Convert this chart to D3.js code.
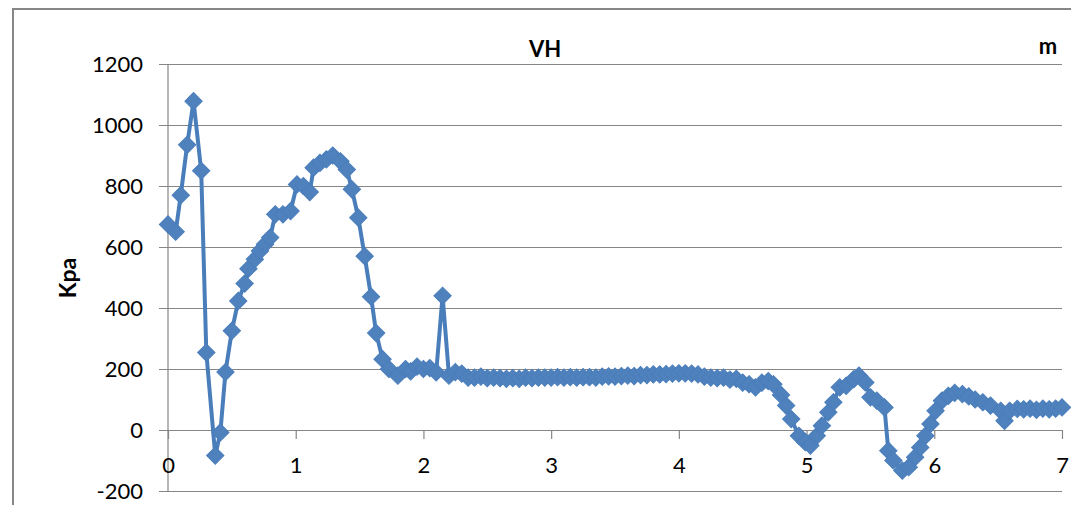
<!DOCTYPE html>
<html>
<head>
<meta charset="utf-8">
<script src="https://cdn.jsdelivr.net/npm/d3@7"></script>
<style>
  html, body { margin: 0; padding: 0; background: #fff; }
  svg { display: block; }
</style>
</head>
<body>
<svg id="chart" width="1071" height="505"></svg>
<script>
const chartTitle = "VH";
const xAxisTitle = "m";
const yAxisTitle = "Kpa";
const xTicks = [0, 1, 2, 3, 4, 5, 6, 7];
const yTicks = [-200, 0, 200, 400, 600, 800, 1000, 1200];

const depth = [
  0.00, 0.06, 0.10, 0.15, 0.20, 0.26, 0.30, 0.37, 0.41, 0.45,
  0.50, 0.55, 0.60, 0.63, 0.68, 0.72, 0.76, 0.80, 0.84, 0.90,
  0.96, 1.01, 1.06, 1.11, 1.14, 1.19, 1.24, 1.29, 1.35, 1.40,
  1.44, 1.49, 1.54, 1.59, 1.63, 1.68, 1.73, 1.80, 1.86, 1.90,
  1.95, 2.00, 2.05, 2.10, 2.15, 2.20, 2.25, 2.30, 2.35, 2.40,
  2.45, 2.50, 2.55, 2.60, 2.65, 2.70, 2.75, 2.80, 2.85, 2.90,
  2.95, 3.00, 3.05, 3.10, 3.15, 3.20, 3.25, 3.30, 3.35, 3.40,
  3.45, 3.50, 3.55, 3.60, 3.65, 3.70, 3.75, 3.80, 3.85, 3.90,
  3.95, 4.00, 4.05, 4.10, 4.15, 4.20, 4.25, 4.30, 4.35, 4.40,
  4.45, 4.50, 4.55, 4.60, 4.65, 4.70, 4.74, 4.80, 4.84, 4.88,
  4.94, 4.99, 5.03, 5.08, 5.12, 5.17, 5.21, 5.26, 5.31, 5.37,
  5.41, 5.46, 5.50, 5.55, 5.61, 5.64, 5.68, 5.75, 5.80, 5.85,
  5.89, 5.93, 5.97, 6.01, 6.06, 6.11, 6.16, 6.22, 6.27, 6.32,
  6.38, 6.44, 6.52, 6.55, 6.59, 6.65, 6.70, 6.75, 6.80, 6.85,
  6.90, 6.95, 7.00
];
const pressure = [
  674, 650, 770, 935, 1078, 850, 254, -84, -8, 190,
  325, 423, 480, 529, 560, 587, 609, 631, 707, 707,
  718, 805, 800, 780, 860, 876, 887, 900, 881, 854,
  789, 696, 570, 437, 318, 232, 200, 178, 200, 192,
  208, 200, 203, 189, 440, 178, 190, 185, 172, 172,
  175, 170, 172, 170, 168, 170, 168, 172, 170, 172,
  172, 172, 173, 172, 173, 172, 173, 173, 172, 175,
  176, 175, 177, 178, 177, 180, 180, 182, 182, 183,
  185, 186, 186, 185, 182, 175, 172, 170, 172, 165,
  168, 155, 150, 140, 155, 160, 150, 115, 80, 36,
  -19, -40, -51, -19, 14, 58, 91, 140, 145, 167,
  178, 156, 107, 96, 74, -68, -100, -133, -122, -89,
  -57, -19, 20, 63, 96, 112, 122, 118, 110, 100,
  91, 80, 63, 30, 63, 69, 68, 70, 66, 70,
  68, 70, 74
];

const data = depth.map((d, i) => ({ x: d, y: pressure[i] }));

const svg = d3.select("#chart");
const x = d3.scaleLinear().domain([0, 7]).range([168, 1062]);
const y = d3.scaleLinear().domain([-200, 1200]).range([491, 64]);

const gridColor = "#868686";
const seriesColor = "#4A7EBB";
const markerColor = "#4F81BD";
const fontFamily = "Lato, 'Open Sans', sans-serif";

// outer chart border
svg.append("rect")
  .attr("x", 13).attr("y", 9)
  .attr("width", 1070).attr("height", 510)
  .attr("fill", "none")
  .attr("stroke", "#878787")
  .attr("stroke-width", 2);

// y axis with gridlines
const yAxis = d3.axisLeft(y)
  .tickValues(yTicks)
  .tickSize(-(1062 - 159))
  .tickPadding(16)
  .tickFormat(d => String(d));
const gy = svg.append("g")
  .attr("transform", "translate(159,0)")
  .call(yAxis);
gy.select(".domain").remove();
gy.selectAll(".tick line").attr("stroke", gridColor).attr("stroke-width", 1.2);
gy.selectAll(".tick text")
  .attr("font-family", fontFamily)
  .attr("font-size", 22)
  .attr("fill", "#000");

// y axis vertical line
svg.append("line")
  .attr("x1", x(0)).attr("x2", x(0))
  .attr("y1", y(1200)).attr("y2", y(-200))
  .attr("stroke", gridColor).attr("stroke-width", 1.2);

// x axis at y=0
const xAxis = d3.axisBottom(x)
  .tickValues(xTicks)
  .tickSize(9)
  .tickPadding(18)
  .tickFormat(d => String(d));
const gx = svg.append("g")
  .attr("transform", `translate(0,${y(0)})`)
  .call(xAxis);
gx.select(".domain").remove();
gx.selectAll(".tick line").attr("stroke", gridColor).attr("stroke-width", 1.2);
gx.selectAll(".tick text")
  .attr("font-family", fontFamily)
  .attr("font-size", 22)
  .attr("fill", "#000");

// series line
const line = d3.line().x(d => x(d.x)).y(d => y(d.y));
svg.append("path")
  .datum(data)
  .attr("d", line)
  .attr("fill", "none")
  .attr("stroke", seriesColor)
  .attr("stroke-width", 4)
  .attr("stroke-linejoin", "round");

// diamond markers
const diamond = d3.symbol().type(d3.symbolSquare).size(150);
svg.append("g").selectAll("path")
  .data(data)
  .join("path")
  .attr("d", diamond)
  .attr("transform", d => `translate(${x(d.x)},${y(d.y)}) rotate(45)`)
  .attr("fill", markerColor)
  .attr("stroke", seriesColor)
  .attr("stroke-width", 1);

// titles
svg.append("text")
  .attr("x", 545).attr("y", 57)
  .attr("text-anchor", "middle")
  .attr("font-family", fontFamily)
  .attr("font-weight", "bold")
  .attr("font-size", 22)
  .text(chartTitle);

svg.append("text")
  .attr("x", 1048).attr("y", 54)
  .attr("text-anchor", "middle")
  .attr("font-family", fontFamily)
  .attr("font-weight", "bold")
  .attr("font-size", 22)
  .text(xAxisTitle);

svg.append("text")
  .attr("transform", "translate(76,278) rotate(-90)")
  .attr("text-anchor", "middle")
  .attr("font-family", fontFamily)
  .attr("font-weight", "bold")
  .attr("font-size", 23)
  .text(yAxisTitle);
</script>
</body>
</html>
